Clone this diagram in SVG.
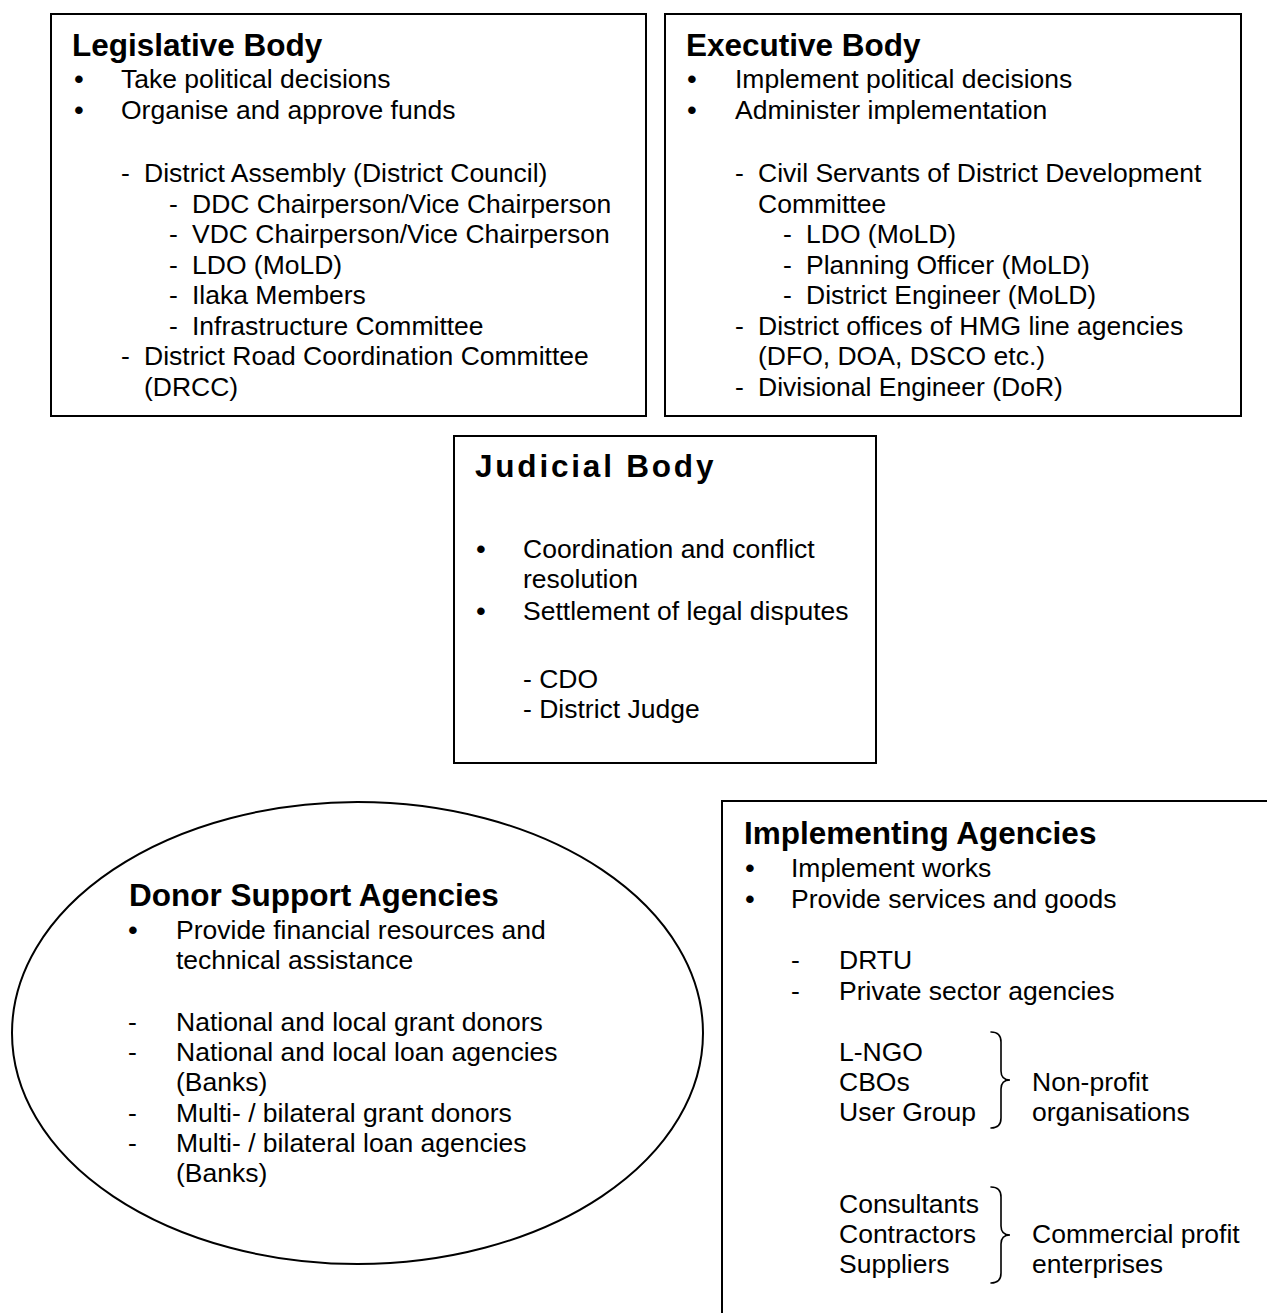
<svg xmlns="http://www.w3.org/2000/svg" width="1267" height="1313" viewBox="0 0 1267 1313">
<style>
  .box { fill: #ffffff; stroke: #000000; stroke-width: 2; }
  .brace { fill: none; stroke: #000000; stroke-width: 1.6; stroke-linecap: round; }
  text { font-family: "Liberation Sans", Arial, sans-serif; fill: #000000; }
  .t { font-size: 31.5px; font-weight: bold; }
  .b { font-size: 26.5px; }
  .bul { font-size: 26.5px; font-weight: bold; text-anchor: middle; }
</style>
<rect width="1267" height="1313" fill="#ffffff"/>
<g id="connectors"></g>

<g id="legislative">
  <rect class="box" x="51" y="14" width="595" height="402"/>
  <text class="t" x="72" y="56">Legislative Body</text>
  <text class="bul" x="79" y="88">•</text>
  <text class="b" x="121" y="88">Take political decisions</text>
  <text class="bul" x="79" y="119">•</text>
  <text class="b" x="121" y="119">Organise and approve funds</text>
  <text class="b" x="121" y="182">-</text>
  <text class="b" x="144" y="182">District Assembly (District Council)</text>
  <text class="b" x="169" y="213">-</text>
  <text class="b" x="192" y="213">DDC Chairperson/Vice Chairperson</text>
  <text class="b" x="169" y="243">-</text>
  <text class="b" x="192" y="243">VDC Chairperson/Vice Chairperson</text>
  <text class="b" x="169" y="274">-</text>
  <text class="b" x="192" y="274">LDO (MoLD)</text>
  <text class="b" x="169" y="304">-</text>
  <text class="b" x="192" y="304">Ilaka Members</text>
  <text class="b" x="169" y="335">-</text>
  <text class="b" x="192" y="335">Infrastructure Committee</text>
  <text class="b" x="121" y="365">-</text>
  <text class="b" x="144" y="365">District Road Coordination Committee</text>
  <text class="b" x="144" y="396">(DRCC)</text>
</g>

<g id="executive">
  <rect class="box" x="665" y="14" width="576" height="402"/>
  <text class="t" x="686" y="56">Executive Body</text>
  <text class="bul" x="692" y="88">•</text>
  <text class="b" x="735" y="88">Implement political decisions</text>
  <text class="bul" x="692" y="119">•</text>
  <text class="b" x="735" y="119">Administer implementation</text>
  <text class="b" x="735" y="182">-</text>
  <text class="b" x="758" y="182">Civil Servants of District Development</text>
  <text class="b" x="758" y="213">Committee</text>
  <text class="b" x="783" y="243">-</text>
  <text class="b" x="806" y="243">LDO (MoLD)</text>
  <text class="b" x="783" y="274">-</text>
  <text class="b" x="806" y="274">Planning Officer (MoLD)</text>
  <text class="b" x="783" y="304">-</text>
  <text class="b" x="806" y="304">District Engineer (MoLD)</text>
  <text class="b" x="735" y="335">-</text>
  <text class="b" x="758" y="335">District offices of HMG line agencies</text>
  <text class="b" x="758" y="365">(DFO, DOA, DSCO etc.)</text>
  <text class="b" x="735" y="396">-</text>
  <text class="b" x="758" y="396">Divisional Engineer (DoR)</text>
</g>

<g id="judicial">
  <rect class="box" x="454" y="436" width="422" height="327"/>
  <text class="t" x="475" y="477" letter-spacing="2.8">Judicial Body</text>
  <text class="bul" x="481" y="558">•</text>
  <text class="b" x="523" y="558">Coordination and conflict</text>
  <text class="b" x="523" y="588">resolution</text>
  <text class="bul" x="481" y="620">•</text>
  <text class="b" x="523" y="620">Settlement of legal disputes</text>
  <text class="b" x="523" y="688">- CDO</text>
  <text class="b" x="523" y="718">- District Judge</text>
</g>

<g id="donor">
  <ellipse class="box" cx="357.5" cy="1033" rx="345.5" ry="231" stroke-width="1.6"/>
  <text class="t" x="129" y="906">Donor Support Agencies</text>
  <text class="bul" x="133" y="939">•</text>
  <text class="b" x="176" y="939">Provide financial resources and</text>
  <text class="b" x="176" y="969">technical assistance</text>
  <text class="b" x="128" y="1031">-</text>
  <text class="b" x="176" y="1031">National and local grant donors</text>
  <text class="b" x="128" y="1061">-</text>
  <text class="b" x="176" y="1061">National and local loan agencies</text>
  <text class="b" x="176" y="1091">(Banks)</text>
  <text class="b" x="128" y="1122">-</text>
  <text class="b" x="176" y="1122">Multi- / bilateral grant donors</text>
  <text class="b" x="128" y="1152">-</text>
  <text class="b" x="176" y="1152">Multi- / bilateral loan agencies</text>
  <text class="b" x="176" y="1182">(Banks)</text>
</g>

<g id="implementing">
  <rect class="box" x="722" y="801" width="600" height="600"/>
  <text class="t" x="744" y="844">Implementing Agencies</text>
  <text class="bul" x="750" y="877">•</text>
  <text class="b" x="791" y="877">Implement works</text>
  <text class="bul" x="750" y="908">•</text>
  <text class="b" x="791" y="908">Provide services and goods</text>
  <text class="b" x="791" y="969">-</text>
  <text class="b" x="839" y="969">DRTU</text>
  <text class="b" x="791" y="1000">-</text>
  <text class="b" x="839" y="1000">Private sector agencies</text>
  <text class="b" x="839" y="1061">L-NGO</text>
  <text class="b" x="839" y="1091">CBOs</text>
  <text class="b" x="839" y="1121">User Group</text>
  <path class="brace" d="M991,1032 Q1001,1032 1001,1042 L1001,1071 Q1001,1080 1010,1080 Q1001,1080 1001,1089 L1001,1118 Q1001,1128 991,1128"/>
  <text class="b" x="1032" y="1091">Non-profit</text>
  <text class="b" x="1032" y="1121">organisations</text>
  <text class="b" x="839" y="1213">Consultants</text>
  <text class="b" x="839" y="1243">Contractors</text>
  <text class="b" x="839" y="1273">Suppliers</text>
  <path class="brace" d="M991,1187 Q1001,1187 1001,1197 L1001,1226 Q1001,1235 1010,1235 Q1001,1235 1001,1244 L1001,1273 Q1001,1283 991,1283"/>
  <text class="b" x="1032" y="1243">Commercial profit</text>
  <text class="b" x="1032" y="1273">enterprises</text>
</g>
</svg>
